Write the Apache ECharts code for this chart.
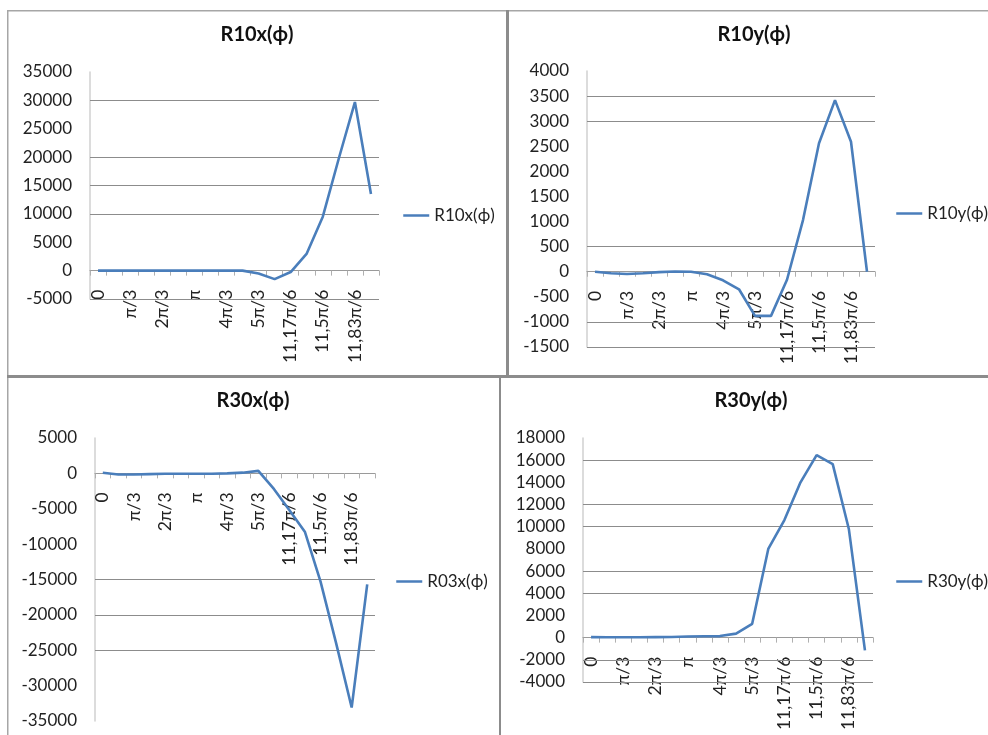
<!DOCTYPE html>
<html>
<head>
<meta charset="utf-8">
<script src="https://cdn.jsdelivr.net/npm/echarts@6/dist/echarts.min.js"></script>
<style>
  html, body { margin: 0; padding: 0; background: #fff; }
  #chart { width: 988px; height: 735px; }
</style>
</head>
<body>
<div id="chart"></div>
<script>
// Angle categories (every other one carries a visible label)
const categories = ['0', 'π/6', 'π/3', 'π/2', '2π/3', '5π/6', 'π', '7π/6', '4π/3', '3π/2',
  '5π/3', '11π/6', '11,17π/6', '11,33π/6', '11,5π/6', '11,67π/6', '11,83π/6', '2π'];

// Series values
const r10x = [0, 0, 0, 0, 0, 0, 0, 0, 0, 0, -500, -1500, -250, 3000, 9500, 19800, 29700, 13500];
const r10y = [0, -30, -45, -30, -8, 5, 0, -50, -170, -350, -880, -880, -160, 1030, 2560, 3420, 2590, 0];
const r30x = [100, -150, -150, -100, -60, -60, -60, -60, 0, 100, 350, -2200, -5200, -8300, -15300, -24000, -33100, -15700];
const r30y = [50, 40, 40, 40, 50, 60, 100, 130, 140, 360, 1250, 8000, 10600, 14000, 16450, 15650, 9800, -1150];

// Horizontal guide lines drawn in each panel
const guides10x = [30000, 20000, 15000, 10000, -5000];
const guides10y = [3500, 3000, 500, -1000, -1500];
const guides30x = [-15000, -20000, -25000];
const guides30y = [16000, 12000, 10000, 6000, 4000, -2000, -4000];

const titles = ['R10x(ϕ)', 'R10y(ϕ)', 'R30x(ϕ)', 'R30y(ϕ)'];
const seriesNames = ['R10x(ϕ)', 'R10y(ϕ)', 'R03x(ϕ)', 'R30y(ϕ)'];

const FONT = 'Lato, "Liberation Sans", sans-serif';
const TEXT = '#222';
const LINE = '#4a7ebb';

const panels = [
  { title: titles[0], name: seriesNames[0], values: r10x, guides: guides10x,
    grid: { left: 90, top: 72, width: 289, height: 227 },
    y: [-5000, 35000, 5000], titlePos: [257, 25], legendPos: [402, 207] },
  { title: titles[1], name: seriesNames[1], values: r10y, guides: guides10y,
    grid: { left: 587, top: 71, width: 288, height: 276 },
    y: [-1500, 4000, 500], titlePos: [754, 25], legendPos: [895, 205] },
  { title: titles[2], name: seriesNames[2], values: r30x, guides: guides30x,
    grid: { left: 95, top: 438, width: 280, height: 283 },
    y: [-35000, 5000, 5000], titlePos: [253, 391], legendPos: [395, 573] },
  { title: titles[3], name: seriesNames[3], values: r30y, guides: guides30y,
    grid: { left: 583, top: 438, width: 290, height: 244 },
    y: [-4000, 18000, 2000], titlePos: [751, 391], legendPos: [895, 573] }
];

// The category axis sits on the value 0 of its panel's vertical scale
function zeroOffset(p) {
  const [min, max] = p.y;
  return -((0 - min) / (max - min)) * p.grid.height;
}

const chart = echarts.init(document.getElementById('chart'), null, { renderer: 'canvas' });

const frame = '#a6a6a6';
const band = '#8c8c8c';

chart.setOption({
  animation: false,
  backgroundColor: '#fff',
  title: panels.map(p => ({
    text: p.title, left: p.titlePos[0], top: p.titlePos[1], textAlign: 'center', padding: 0,
    textStyle: { fontFamily: FONT, fontSize: 20, fontWeight: 'bold', color: '#111' }
  })),
  legend: panels.map(p => ({
    data: [p.name], left: p.legendPos[0], top: p.legendPos[1], padding: 0,
    itemWidth: 26, itemHeight: 14, itemGap: 4,
    itemStyle: { opacity: 0 },
    lineStyle: { width: 2.5 },
    textStyle: { fontFamily: FONT, fontSize: 17, color: TEXT }
  })),
  grid: panels.map(p => Object.assign({ containLabel: false, outerBoundsMode: 'none' }, p.grid)),
  xAxis: panels.map((p, i) => ({
    type: 'category', gridIndex: i, data: categories, boundaryGap: true,
    position: 'bottom', offset: zeroOffset(p),
    axisLine: { show: true, onZero: false, lineStyle: { color: '#9a9a9a', width: 1 } },
    axisTick: { show: true, interval: 0, length: 5, lineStyle: { color: '#b0b0b0' } },
    axisLabel: { interval: 1, rotate: 90, margin: 19, fontFamily: FONT, fontSize: 17.5, color: TEXT, hideOverlap: false },
    splitLine: { show: false }
  })),
  yAxis: panels.map((p, i) => ({
    type: 'value', gridIndex: i, min: p.y[0], max: p.y[1], interval: p.y[2],
    axisLine: { show: true, lineStyle: { color: '#d0d0d0', width: 1.5 } },
    axisTick: { show: false },
    splitLine: { show: false },
    axisLabel: { margin: 18, fontFamily: FONT, fontSize: 17, color: TEXT, formatter: v => String(v) }
  })),
  series: panels.map((p, i) => ({
    type: 'line', name: p.name, xAxisIndex: i, yAxisIndex: i, data: p.values,
    symbol: 'none', showSymbol: false, z: 3,
    lineStyle: { color: LINE, width: 2.6 }, itemStyle: { color: LINE },
    markLine: {
      silent: true, symbol: 'none', z: 1, animation: false,
      label: { show: false },
      lineStyle: { color: '#8c8c8c', type: 'solid', width: 1 },
      data: p.guides.map(v => ({ yAxis: v }))
    }
  })),
  graphic: [
    { type: 'rect', shape: { x: 7, y: 10, width: 981, height: 1.5 }, style: { fill: frame }, silent: true },
    { type: 'rect', shape: { x: 7, y: 10, width: 1.5, height: 725 }, style: { fill: frame }, silent: true },
    { type: 'rect', shape: { x: 506, y: 10, width: 3, height: 368 }, style: { fill: band }, silent: true },
    { type: 'rect', shape: { x: 7, y: 375, width: 981, height: 3 }, style: { fill: band }, silent: true },
    { type: 'rect', shape: { x: 499, y: 377, width: 2, height: 358 }, style: { fill: band }, silent: true }
  ]
});
</script>
</body>
</html>
